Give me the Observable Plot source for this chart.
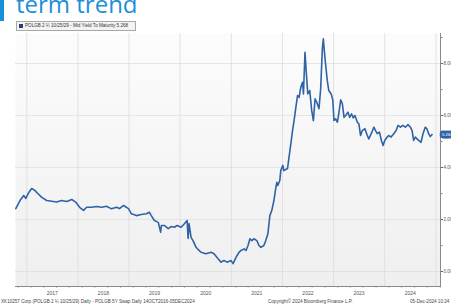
<!DOCTYPE html>
<html>
<head>
<meta charset="utf-8">
<script src="https://cdn.jsdelivr.net/npm/d3@7"></script>
<script src="https://cdn.jsdelivr.net/npm/@observablehq/plot@0.6"></script>
<style>
  html, body { margin: 0; padding: 0; background: #ffffff; }
  #wrap { position: relative; width: 451px; height: 305px; overflow: hidden; font-family: "Liberation Sans", Arial, sans-serif; }
  #bar { position: absolute; left: 0; top: 0; width: 4px; height: 21px; background: #1b8fd9; }
  #title { position: absolute; left: 16px; top: -11px; font-family: "Open Sans", sans-serif; font-size: 24px; line-height: 30px; color: #1b8fd9; white-space: nowrap; }
  #legend { position: absolute; left: 16px; top: 21px; width: 118px; height: 8px; border: 1px solid #a8a8a8; background: #f3f3f3; font-size: 4.6px; line-height: 8px; color: #333; white-space: nowrap; box-sizing: content-box; }
  #legend .sw { display: inline-block; width: 4px; height: 4px; background: #24407a; margin: 0 2px 0 2px; vertical-align: -0.5px; }
  .foot { position: absolute; top: 299px; font-size: 4.6px; line-height: 6px; color: #444; white-space: nowrap; }
  #chart { position: absolute; left: 0; top: 0; }
</style>
</head>
<body>
<div id="wrap">
  <div id="bar"></div>
  <div id="title">term trend</div>
  <div id="chart"></div>
  <div id="legend"><span class="sw"></span>POLGB 2 ¼ 10/25/29 - Mid Yield To Maturity 5.268</div>
  <div class="foot" style="left:1px">XK10257 Corp (POLGB 2 ¼ 10/25/29) Daily - POLGB 5Y Swap Daily 14OCT2016-05DEC2024</div>
  <div class="foot" style="left:268px">Copyright© 2024 Bloomberg Finance L.P.</div>
  <div class="foot" style="left:410px">05-Dec-2024 10:24</div>
</div>
<script>
const dates = [
  "2016-10-14","2016-11-13","2016-12-10","2016-12-25","2017-01-15","2017-02-05","2017-02-27","2017-03-20",
  "2017-04-18","2017-05-23","2017-06-28","2017-08-02","2017-09-07","2017-10-13","2017-11-18","2017-12-16",
  "2018-01-13","2018-02-10","2018-03-04","2018-04-09","2018-05-14","2018-06-19","2018-07-24","2018-08-29",
  "2018-10-04","2018-10-25","2018-11-23","2018-12-28","2019-01-18","2019-02-23","2019-03-30","2019-05-05",
  "2019-05-26","2019-06-09","2019-07-01","2019-07-29","2019-08-15","2019-08-20","2019-09-10","2019-10-08",
  "2019-10-30","2019-11-20","2019-12-11","2020-01-08","2020-01-30","2020-02-20","2020-02-27","2020-03-05",
  "2020-03-19","2020-04-02","2020-04-24","2020-05-15","2020-05-29","2020-07-04","2020-08-09","2020-08-30",
  "2020-09-28","2020-10-19","2020-11-09","2020-12-01","2020-12-30","2021-01-13","2021-02-04","2021-02-25",
  "2021-03-11","2021-04-02","2021-04-16","2021-04-30","2021-05-14","2021-05-28","2021-06-11","2021-07-02",
  "2021-07-17","2021-07-31","2021-08-21","2021-09-04","2021-09-19","2021-10-03","2021-10-17","2021-11-01",
  "2021-11-15","2021-11-22","2021-11-29","2021-12-13","2021-12-20","2022-01-04","2022-01-11","2022-02-06",
  "2022-03-02","2022-03-14","2022-03-25","2022-04-07","2022-04-19","2022-04-30","2022-05-12","2022-05-24",
  "2022-05-31","2022-06-11","2022-06-21","2022-07-01","2022-07-15","2022-07-29","2022-08-10","2022-08-22",
  "2022-09-03","2022-09-19","2022-10-01","2022-10-13","2022-10-20","2022-10-29","2022-11-05","2022-11-17",
  "2022-11-28","2022-12-15","2022-12-27","2023-01-04","2023-01-16","2023-01-28","2023-02-09","2023-02-21",
  "2023-03-05","2023-03-17","2023-03-29","2023-04-14","2023-04-26","2023-05-10","2023-05-22","2023-06-03",
  "2023-06-20","2023-07-01","2023-07-13","2023-07-25","2023-08-13","2023-08-30","2023-09-10","2023-09-27",
  "2023-10-16","2023-10-28","2023-11-09","2023-11-25","2023-12-09","2023-12-21","2024-01-02","2024-01-19",
  "2024-01-30","2024-02-16","2024-03-06","2024-03-23","2024-04-06","2024-04-23","2024-05-09","2024-05-28",
  "2024-06-16","2024-07-03","2024-07-15","2024-07-26","2024-08-07","2024-08-19","2024-08-31","2024-09-17",
  "2024-10-01","2024-10-17","2024-10-29","2024-11-10","2024-11-22","2024-12-05"
];
const yields = [
  2.42,2.73,2.92,2.81,3.04,3.19,3.12,3.00,
  2.85,2.73,2.70,2.67,2.73,2.69,2.77,2.67,
  2.47,2.35,2.47,2.47,2.50,2.47,2.51,2.41,
  2.47,2.42,2.54,2.42,2.22,2.15,2.19,2.22,
  2.28,2.15,1.96,1.89,1.51,1.77,1.77,1.65,
  1.73,1.70,1.77,1.70,1.83,1.96,1.27,1.84,
  1.31,1.19,0.93,0.81,0.74,0.68,0.74,0.68,
  0.49,0.36,0.42,0.36,0.42,0.30,0.55,0.74,
  0.81,0.87,0.81,1.00,1.26,1.19,1.26,1.19,
  1.00,0.93,1.00,1.19,1.45,2.15,2.35,2.73,
  3.24,3.43,3.31,3.50,3.88,4.08,3.88,3.96,
  4.92,5.42,5.80,6.32,6.77,6.70,7.09,7.28,
  6.83,8.43,7.60,6.83,6.96,6.19,5.80,6.64,
  6.51,6.26,7.03,8.57,8.95,8.37,7.98,7.35,
  6.96,6.83,6.58,5.81,5.87,5.74,6.13,6.60,
  6.45,5.93,6.00,6.13,5.93,6.06,5.91,6.00,
  5.74,5.68,5.23,5.42,5.49,5.23,5.10,5.30,
  5.55,5.42,5.30,5.36,5.04,4.85,5.04,5.17,
  5.23,5.17,5.30,5.42,5.62,5.55,5.62,5.55,
  5.65,5.55,5.42,5.04,5.17,5.10,5.04,4.97,
  5.30,5.55,5.49,5.30,5.19,5.268
];
const yearLabels = ["2017","2018","2019","2020","2021","2022","2023","2024"];
const yTicks = [0, 2, 4, 6, 8];
const yMinor = [1, 3, 5, 7, 9];
const xDomain = ["2016-10-12", "2025-02-03"];

const data = dates.map((d, i) => ({date: new Date(d), value: yields[i]}));
const last = data[data.length - 1];
const yearStarts = yearLabels.map(y => new Date(`${y}-01-01`)).concat([new Date(`${+yearLabels[yearLabels.length - 1] + 1}-01-01`)]);
const midYears = yearLabels.map(y => new Date(`${y}-07-02`));
const months = d3.utcMonth.range(new Date(xDomain[0]), new Date(xDomain[1]), 3);

const chart = Plot.plot({
  width: 451,
  height: 305,
  marginTop: 33,
  marginBottom: 19,
  marginLeft: 15,
  marginRight: 11,
  style: {fontFamily: "Liberation Sans, Arial, sans-serif", fontSize: "5px", background: "transparent", overflow: "visible"},
  x: {type: "utc", domain: xDomain.map(d => new Date(d)), label: null},
  y: {domain: [-0.577, 9.154], label: null},
  marks: [
    Plot.frame({fill: "url(#bgGrad)", stroke: null}),
    Plot.gridY(yTicks, {stroke: "#e0e0e0", strokeOpacity: 1, strokeWidth: 0.8}),
    Plot.gridX(yearStarts, {stroke: "#dcdcdc", strokeOpacity: 1, strokeWidth: 0.8}),
    Plot.frame({anchor: "right", stroke: "#8a8a8a"}),
    Plot.frame({anchor: "bottom", stroke: "#8a8a8a"}),
    Plot.axisY(yTicks, {anchor: "right", label: null, tickFormat: d3.format(".2f"), tickSize: 2, tickPadding: 1, fill: "#555", stroke: "#666", fontSize: 4.6}),
    Plot.axisY(yMinor, {anchor: "right", label: null, tickFormat: () => "", tickSize: 1.5, stroke: "#888"}),
    Plot.axisX(midYears, {anchor: "bottom", label: null, tickFormat: d => d3.utcFormat("%Y")(d), tickSize: 0, tickPadding: 5, fill: "#555", fontSize: 5}),
    Plot.axisX(months, {anchor: "bottom", label: null, tickFormat: () => "", tickSize: 1.5, stroke: "#888"}),
    Plot.line(data, {x: "date", y: "value", stroke: "#2f63a6", strokeWidth: 1.6, strokeLinejoin: "round"}),
    Plot.text([last], {y: "value", frameAnchor: "right", dx: 1.5, textAnchor: "start", text: d => d.value.toFixed(3),
      fill: "white", stroke: "#2f63a6", strokeWidth: 5, strokeLinejoin: "round", fontSize: 4.2, paintOrder: "stroke"})
  ]
});

d3.select(chart).insert("defs", ":first-child").html(
  `<linearGradient id="bgGrad" x1="0" y1="0" x2="0" y2="1">
     <stop offset="0" stop-color="#fcfcfc"/>
     <stop offset="1" stop-color="#efefef"/>
   </linearGradient>`);

document.getElementById("chart").appendChild(chart);
</script>
</body>
</html>
